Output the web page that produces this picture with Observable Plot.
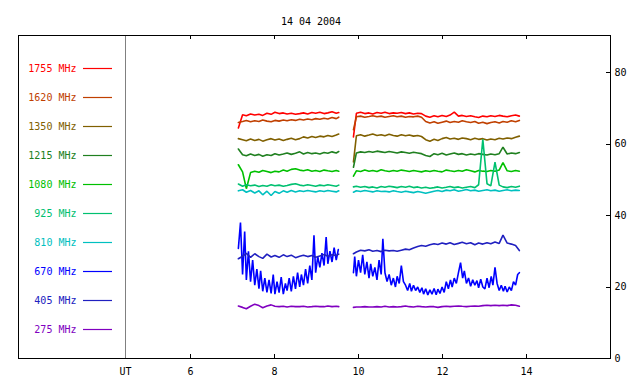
<!DOCTYPE html>
<html><head><meta charset="utf-8">
<script src="https://cdn.jsdelivr.net/npm/d3@7"></script>
<script src="https://cdn.jsdelivr.net/npm/@observablehq/plot@0.6"></script>
<style>
body{margin:0;background:#fff;}
#wrap{position:relative;width:640px;height:384px;font-family:"DejaVu Sans Mono",monospace;}
#title{height:30px;box-sizing:border-box;padding-top:15px;line-height:14px;font-size:10px;width:622px;text-align:center;color:#000;}
#legend{position:absolute;left:18px;top:35px;}
</style></head><body>
<div id="wrap"><div id="title">14 04 2004</div><div id="main"></div><div id="legend"></div></div>
<script>
// ---- labels / ticks ----
const freqLabels = ["1755","1620","1350","1215","1080","925","810","670","405","275"];
const freqColors = ["#ff0000","#c04000","#806000","#208020","#00c000","#00c070","#00c0c0","#0000ff","#2020c0","#8000c0"];
const xTicks = [6, 8, 10, 12, 14];
const utTime = 4.45;
const yTicks = [0, 20, 40, 60, 80];
const xDomain = [1.905, 16.0];
const yDomain = [0, 90.35];

// ---- sample times (UT hours) ----
const times1 = [7.14,7.24,7.33,7.43,7.53,7.63,7.72,7.82,7.92,8.01,8.11,8.21,8.30,8.40,8.50,8.60,8.69,8.79,8.89,8.98,9.08,9.18,9.27,9.37,9.47,9.53];
const times2 = [9.88,9.95,10.05,10.15,10.25,10.34,10.44,10.54,10.63,10.73,10.83,10.92,11.02,11.12,11.21,11.31,11.41,11.50,11.60,11.70,11.80,11.89,11.99,12.09,12.18,12.28,12.38,12.47,12.57,12.67,12.77,12.86,12.96,13.06,13.15,13.25,13.35,13.44,13.54,13.64,13.74,13.83];
const blueTimes1 = [7.14,7.19,7.24,7.29,7.33,7.38,7.43,7.48,7.53,7.58,7.63,7.67,7.72,7.77,7.82,7.87,7.92,7.97,8.01,8.06,8.11,8.16,8.21,8.26,8.30,8.35,8.40,8.45,8.50,8.55,8.60,8.64,8.69,8.74,8.79,8.84,8.89,8.94,8.98,9.03,9.08,9.13,9.18,9.23,9.27,9.32,9.37,9.42,9.47,9.52];
const blueTimes2 = [9.88,9.91,9.95,10.00,10.05,10.10,10.15,10.20,10.25,10.29,10.34,10.39,10.44,10.49,10.54,10.58,10.63,10.68,10.73,10.78,10.83,10.88,10.92,10.97,11.02,11.07,11.12,11.17,11.22,11.26,11.31,11.36,11.41,11.46,11.51,11.55,11.60,11.65,11.70,11.75,11.80,11.85,11.89,11.94,11.99,12.04,12.09,12.14,12.19,12.23,12.28,12.33,12.38,12.43,12.48,12.52,12.57,12.62,12.67,12.72,12.77,12.82,12.86,12.91,12.96,13.01,13.06,13.11,13.16,13.20,13.25,13.30,13.35,13.40,13.45,13.49,13.54,13.59,13.64,13.69,13.74,13.79,13.83];

// ---- series values ----
const f1755_a = [64.5,68.2,67.9,68.4,68.1,68.3,68.0,68.6,68.3,68.9,68.5,68.7,68.4,68.6,68.3,68.5,68.7,68.4,68.8,68.6,68.9,68.5,68.7,69.0,68.6,68.8];
const f1755_b = [62.0,68.6,68.9,68.5,68.7,68.4,68.8,68.6,68.9,68.5,68.7,68.6,68.8,68.5,68.7,68.4,68.6,68.5,67.8,67.5,67.9,67.6,68.0,67.7,68.1,68.9,67.8,68.0,67.7,67.9,67.6,67.4,67.8,67.6,67.9,67.7,68.0,67.8,67.6,67.9,68.1,67.8];
const f1620_a = [66.0,66.3,66.6,66.2,66.5,66.3,66.7,66.4,66.2,66.6,66.4,66.7,66.5,66.8,66.6,66.9,66.7,67.0,66.8,67.1,66.9,67.2,67.0,67.4,67.1,67.5];
const f1620_b = [64.0,67.6,67.8,67.5,67.7,67.9,67.6,67.8,67.5,67.7,67.9,67.6,67.8,67.5,67.7,67.6,67.8,67.5,66.3,65.9,66.2,65.8,66.1,66.4,66.0,66.3,66.1,66.5,66.2,66.0,66.3,65.8,66.1,65.7,66.0,66.2,65.9,66.3,66.1,66.5,66.2,66.6];
const f1350_a = [61.5,61.2,60.9,61.4,61.0,61.3,60.8,61.2,61.5,61.1,61.4,61.0,61.3,61.6,61.2,61.5,62.0,61.7,62.1,61.8,62.2,62.0,62.4,62.1,62.5,62.8];
const f1350_b = [55.0,62.3,62.6,62.2,62.5,62.8,62.4,62.6,62.3,62.7,62.4,62.2,62.6,62.3,62.5,62.2,62.4,62.1,61.2,60.8,61.3,61.0,61.5,61.8,61.4,61.6,61.3,61.7,61.5,61.2,61.6,61.3,61.5,61.1,61.4,61.2,61.6,61.4,61.7,61.5,61.9,62.2];
const f1215_a = [58.6,57.0,56.7,57.2,56.8,57.1,56.6,57.0,56.8,57.3,56.9,57.2,57.5,57.1,57.4,57.8,57.2,57.6,57.3,57.5,57.2,57.6,57.4,57.8,57.5,57.9];
const f1215_b = [53.5,57.5,57.8,57.6,57.9,57.7,58.0,57.8,57.6,57.9,57.7,57.5,57.8,57.6,57.4,57.7,57.5,57.3,56.8,56.5,57.3,57.0,57.4,56.9,57.2,57.5,57.1,57.3,56.9,57.2,57.0,57.3,57.1,56.9,57.2,57.0,57.3,59.1,57.2,57.5,57.3,57.6];
const f1080_a = [54.2,52.2,47.5,52.0,52.4,52.1,52.6,52.3,52.0,52.4,52.2,52.7,52.4,52.9,53.1,52.7,52.5,52.8,52.4,52.6,52.3,52.7,52.5,52.3,52.6,52.4];
const f1080_b = [51.0,52.5,52.3,52.7,52.4,52.6,52.3,52.8,52.5,52.3,52.6,52.4,52.7,52.5,52.3,52.6,52.4,52.2,52.5,52.3,52.6,52.4,52.2,52.7,52.5,52.3,52.6,52.4,52.8,52.5,52.2,52.6,52.4,52.3,52.6,52.4,52.7,54.8,52.5,52.3,52.6,52.4];
const f925_a = [48.8,48.2,48.6,48.3,48.5,48.1,48.4,48.2,48.6,48.3,48.5,48.2,48.4,48.7,48.9,48.5,48.3,48.6,48.4,48.2,48.5,48.3,48.6,48.4,48.2,48.5];
const f925_b = [48.0,48.2,47.9,48.1,47.8,48.0,47.7,48.1,47.9,48.2,48.0,47.8,48.1,47.9,48.2,47.8,48.0,47.7,47.9,47.6,47.8,48.0,47.7,47.9,48.1,47.8,48.0,47.7,47.9,48.1,47.8,48.6,61.3,48.9,48.3,54.9,48.5,48.0,47.8,48.1,47.9,48.2];
const f810_a = [46.9,47.2,46.5,47.0,46.3,46.9,45.8,46.8,45.6,46.7,46.2,46.9,46.5,47.0,46.6,46.9,46.7,47.0,46.8,46.6,46.9,46.7,47.0,46.8,46.6,46.9];
const f810_b = [46.5,46.9,46.7,47.0,46.8,46.6,46.9,46.7,46.8,46.6,46.9,46.7,46.5,46.8,46.6,46.4,46.7,46.5,46.2,46.5,46.8,47.0,46.7,47.1,46.9,47.2,46.8,47.0,47.3,46.9,47.1,46.8,47.0,47.2,46.9,47.1,46.8,47.0,47.2,46.9,47.1,47.0];
const f670_a = [30.8,38.0,23.5,35.5,22.0,30.0,21.5,27.5,20.5,25.0,19.5,24.5,18.8,22.5,18.5,22.0,18.2,23.5,18.0,21.5,18.4,22.8,18.0,21.0,19.0,22.5,18.8,23.0,19.5,24.0,20.0,23.5,20.5,25.0,21.0,26.0,22.0,34.5,24.0,28.5,25.5,29.5,26.0,34.0,26.5,30.0,27.0,31.0,27.5,30.5];
const f670_b = [24.0,28.5,23.0,27.5,24.0,29.0,23.5,27.0,22.5,26.5,23.0,25.5,22.0,27.5,23.5,33.5,24.0,21.5,23.5,20.5,22.5,20.0,23.0,21.0,26.0,21.5,20.5,19.0,21.0,18.8,20.5,19.0,20.0,18.5,19.8,18.0,19.5,17.8,19.2,18.0,19.6,17.8,19.4,18.2,20.0,18.5,21.5,19.5,22.0,20.0,22.5,21.0,24.0,26.8,22.5,24.5,21.0,22.5,20.2,22.0,20.5,21.8,19.8,22.2,20.0,19.5,22.5,19.8,23.0,20.5,25.5,21.0,19.0,20.5,18.8,20.2,18.6,20.0,19.0,21.5,20.5,23.5,24.0];
const f405_a = [27.9,28.6,29.4,28.3,29.3,28.5,28.0,29.2,28.4,28.8,28.3,29.0,28.5,28.9,28.2,28.6,28.9,28.5,28.8,28.3,28.7,29.1,28.6,29.0,28.8,29.2];
const f405_b = [29.3,29.8,30.3,30.1,30.4,30.0,30.2,29.9,30.3,30.1,30.2,30.0,30.3,30.6,30.4,30.9,31.3,31.6,31.4,31.8,32.1,31.9,32.3,32.0,32.4,31.9,32.2,32.5,32.1,32.4,31.8,32.3,32.0,32.4,32.1,32.6,32.2,34.5,32.3,32.0,31.6,30.2];
const f275_a = [14.7,14.3,13.9,14.6,15.2,14.8,14.2,14.7,15.0,14.6,14.5,14.6,14.4,14.6,14.5,14.5,14.6,14.4,14.5,14.6,14.5,14.5,14.7,14.5,14.6,14.5];
const f275_b = [14.3,14.4,14.4,14.5,14.4,14.4,14.5,14.4,14.6,14.4,14.5,14.4,14.5,14.7,14.5,14.4,14.6,14.5,14.4,14.5,14.5,14.3,14.5,14.6,14.5,14.6,14.7,14.6,14.5,14.6,14.7,14.6,14.8,14.9,14.8,14.9,14.8,14.9,14.8,15.0,14.9,14.6];

// ---- build table ----
const seriesDefs = [
  ["1755", f1755_a, f1755_b, times1, times2],
  ["1620", f1620_a, f1620_b, times1, times2],
  ["1350", f1350_a, f1350_b, times1, times2],
  ["1215", f1215_a, f1215_b, times1, times2],
  ["1080", f1080_a, f1080_b, times1, times2],
  ["925",  f925_a,  f925_b,  times1, times2],
  ["810",  f810_a,  f810_b,  times1, times2],
  ["670",  f670_a,  f670_b,  blueTimes1, blueTimes2],
  ["405",  f405_a,  f405_b,  times1, times2],
  ["275",  f275_a,  f275_b,  times1, times2]
];
const rows = [];
for (const [freq, a, b, ta, tb] of seriesDefs) {
  a.forEach((v, i) => rows.push({freq, key: freq + "-1", t: ta[i], v}));
  b.forEach((v, i) => rows.push({freq, key: freq + "-2", t: tb[i], v}));
}

const font = {fontFamily: "'DejaVu Sans Mono', monospace", fontSize: "10px", color: "#000", background: "white"};

const mainPlot = Plot.plot({
  width: 640, height: 354,
  marginLeft: 18, marginRight: 30, marginTop: 5, marginBottom: 26,
  x: {domain: xDomain, ticks: [utTime, ...xTicks], tickSize: 0, tickPadding: 9,
      tickFormat: d => d === utTime ? "UT" : String(d), label: null},
  y: {domain: yDomain, axis: "right", ticks: yTicks, tickSize: 0, tickPadding: 4, label: null},
  color: {domain: freqLabels, range: freqColors},
  style: font,
  marks: [
    Plot.ruleX([utTime], {stroke: "#808080"}),
    Plot.line(rows, {x: "t", y: "v", z: "key", stroke: "freq", strokeWidth: 1.6, strokeLinejoin: "miter"}),
    Plot.ruleX(xTicks, {insetTop: 319, stroke: "#000"}),
    Plot.ruleX(xTicks, {insetBottom: 319, stroke: "#000"}),
    Plot.ruleY(yTicks, {insetLeft: 588, stroke: "#000"}),
    Plot.frame({stroke: "#000"})
  ]
});
mainPlot.querySelectorAll("line").forEach(p => p.setAttribute("shape-rendering", "crispEdges"));
document.getElementById("main").appendChild(mainPlot);

const legendPlot = Plot.plot({
  width: 106, height: 323,
  marginTop: 32, marginBottom: 28, marginLeft: 0, marginRight: 0,
  y: {type: "point", domain: freqLabels, padding: 0, axis: null},
  color: {domain: freqLabels, range: freqColors},
  style: {...font, background: "transparent"},
  marks: [
    Plot.text(freqLabels, {y: d => d, text: d => d + " MHz", fill: d => d, frameAnchor: "left", dx: 58, textAnchor: "end"}),
    Plot.ruleY(freqLabels, {y: d => d, stroke: d => d, strokeWidth: 1.2, insetLeft: 65, insetRight: 12})
  ]
});
document.getElementById("legend").appendChild(legendPlot);
</script>
</body></html>
